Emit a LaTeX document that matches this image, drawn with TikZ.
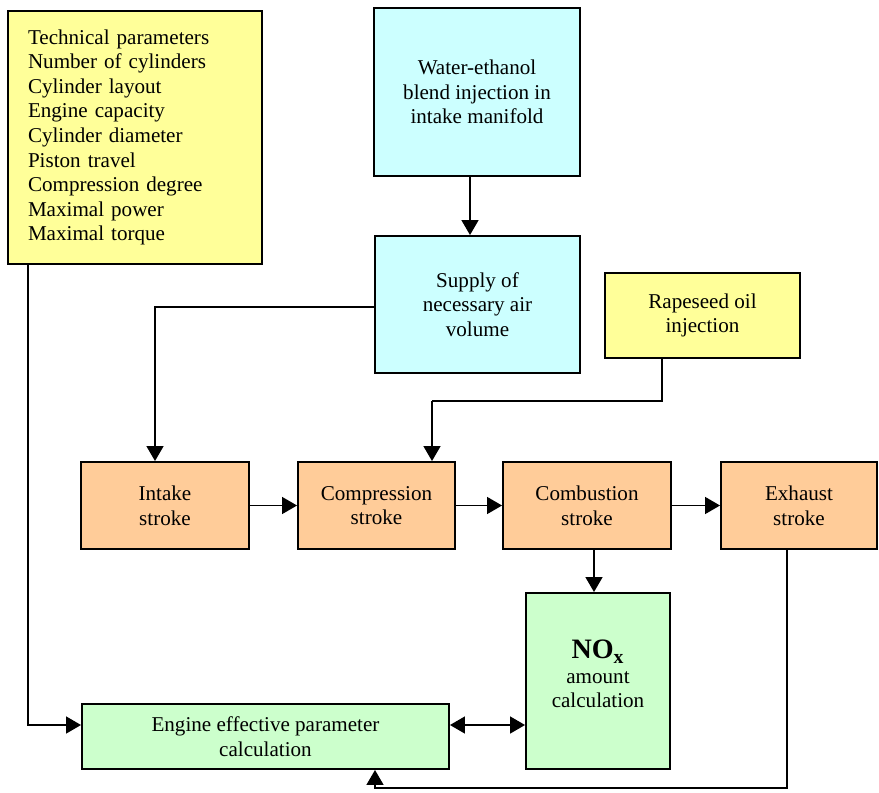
\documentclass[tikz,border=0pt]{standalone}
\usepackage{fontspec}
\setmainfont{Liberation Serif}
\usetikzlibrary{arrows.meta}
\definecolor{boxyellow}{HTML}{FFFF99}
\definecolor{boxcyan}{HTML}{CCFFFF}
\definecolor{boxorange}{HTML}{FFCC99}
\definecolor{boxgreen}{HTML}{CCFFCC}
\tikzset{
  blok/.style={draw, line width=1.1pt, align=center, inner sep=2pt,
    font=\fontsize{12}{14}\selectfont},
  sipka/.style={line width=0.85pt, -{Triangle[length=0.30cm,width=0.34cm]}},
  sipka2/.style={line width=0.85pt, {Triangle[length=0.30cm,width=0.34cm]}-{Triangle[length=0.30cm,width=0.34cm]}},
  cara/.style={line width=0.85pt}
}
\begin{document}
\begin{tikzpicture}
\useasboundingbox (0,0) rectangle (17.58,-15.84);
% Vstupni parametry
\node[blok, fill=boxyellow, minimum width=5.08cm, minimum height=5.06cm,
  text width=4.28cm, align=left] (tech) at (2.70,-2.75)
  {Technical parameters\\ Number of cylinders\\ Cylinder layout\\ Engine capacity\\
   Cylinder diameter\\ Piston travel\\ Compression degree\\ Maximal power\\ Maximal torque};
\node[blok, fill=boxcyan, minimum width=4.12cm, minimum height=3.36cm] (water) at (9.54,-1.84)
  {Water-ethanol\\ blend injection in\\ intake manifold};
\node[blok, fill=boxcyan, minimum width=4.10cm, minimum height=2.74cm] (supply) at (9.55,-6.09)
  {Supply of\\ necessary air\\ volume};
\node[blok, fill=boxyellow, minimum width=3.90cm, minimum height=1.70cm] (rape) at (14.05,-6.31)
  {Rapeseed oil\\ injection};

% Takty motoru
\node[blok, fill=boxorange, minimum width=3.36cm, minimum height=1.74cm] (intake) at (3.30,-10.11)
  {Intake\\ stroke};
\node[blok, fill=boxorange, minimum width=3.14cm, minimum height=1.74cm] (compr) at (7.53,-10.11)
  {Compression\\ stroke};
\node[blok, fill=boxorange, minimum width=3.36cm, minimum height=1.74cm] (combu) at (11.74,-10.11)
  {Combustion\\ stroke};
\node[blok, fill=boxorange, minimum width=3.12cm, minimum height=1.74cm] (exhaust) at (15.98,-10.11)
  {Exhaust\\ stroke};

% Vypocty
\node[blok, fill=boxgreen, minimum width=2.88cm, minimum height=3.52cm] (nox) at (11.96,-13.62)
  {{\fontsize{16}{18}\selectfont\bfseries NO\textsubscript{x}}\\ amount\\ calculation\\[-6pt]};
\node[blok, fill=boxgreen, minimum width=7.34cm, minimum height=1.30cm] (engine) at (5.31,-14.73)
  {Engine effective parameter\\ calculation};

% Spojnice
\coordinate (tl) at (0.56,-14.50);
\coordinate (sb) at (3.10,-6.14);
\coordinate (rb) at (8.64,-8.02);
\coordinate (ex) at (15.74,-15.76);
\coordinate (eb) at (7.50,-15.76);
\draw[sipka] ([xshift=-0.14cm]water.south) -- ([xshift=-0.14cm]water.south |- supply.north);
\draw[sipka] (supply.west |- sb) -- (sb) -- (intake.north -| sb);
\draw[cara] (rape.south -| 13.24,0) -- (13.24,-8.02) -- (rb);
\draw[sipka] (rb) -- (compr.north -| rb);
\draw[sipka] (intake) -- (compr);
\draw[sipka] (compr) -- (combu);
\draw[sipka] (combu) -- (exhaust);
\draw[sipka] (combu.south -| 11.88,0) -- (nox.north -| 11.88,0);
\draw[sipka] (tech.south -| tl) -- (tl) -- (engine.west |- tl);
\draw[sipka2] (engine.east |- tl) -- (nox.west |- tl);
\draw[sipka] (exhaust.south -| ex) -- (ex) -- (eb) -- (engine.south -| eb);
\end{tikzpicture}
\end{document}
